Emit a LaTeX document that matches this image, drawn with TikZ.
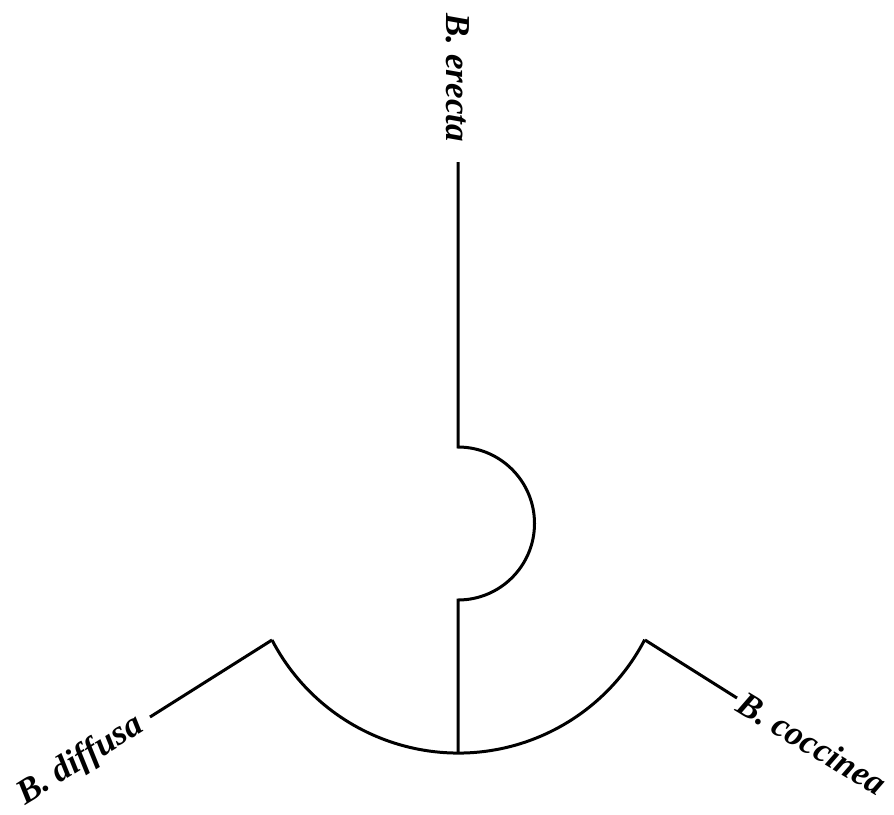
\documentclass[tikz,border=0pt]{standalone}
\usepackage{fontspec}
\setmainfont{Liberation Serif}
\tikzset{
  branch/.style={line width=3pt},
  taxon/.style={font=\fontsize{35}{40}\selectfont\bfseries\itshape, inner sep=11pt},
}
\begin{document}
\begin{tikzpicture}[x=1pt, y=-1pt]
    \useasboundingbox (0,0) rectangle (894,814);

    % points of the tree
    \coordinate (root) at (458,753);
    \coordinate (inner) at (458,600);
    \coordinate (outer) at (458,447);
    \coordinate (lcorner) at (272,640);
    \coordinate (rcorner) at (645,640);
    \coordinate (etip) at (458,162);
    \coordinate (dtip) at (150,717);
    \coordinate (ctip) at (737,698);

    % tip labels
    \node[taxon, rotate=-90, anchor=east, inner sep=20pt] (erecta) at (etip) {B. erecta};
    \node[taxon, rotate=32, anchor=east] (diffusa) at (dtip) {B. diffusa};
    \node[taxon, rotate=-31, anchor=west, inner sep=4pt] (coccinea) at (ctip) {B. coccinea};

    % branches
    \draw[branch] (lcorner) arc[start angle=152.5, end angle=27.4, radius=210];
    \draw[branch] (root) -- (inner) arc[start angle=90, end angle=-90, radius=76.5] -- (etip);
    \draw[branch] (lcorner) -- (dtip);
    \draw[branch] (rcorner) -- (ctip);
\end{tikzpicture}
\end{document}
